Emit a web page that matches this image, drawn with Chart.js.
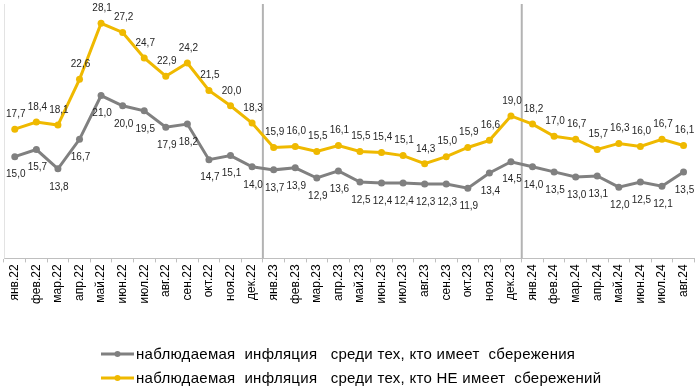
<!DOCTYPE html>
<html>
<head>
<meta charset="utf-8">
<script src="https://cdn.jsdelivr.net/npm/chart.js@4/dist/chart.umd.min.js"></script>
<style>
  html, body { margin: 0; padding: 0; background: #ffffff; }
  #wrap { width: 700px; height: 390px; position: relative; }
</style>
</head>
<body>
<div id="wrap"><canvas id="c" width="700" height="390"></canvas></div>
<script>
const categories = [
  'янв.22','фев.22','мар.22','апр.22','май.22','июн.22','июл.22','авг.22','сен.22','окт.22','ноя.22','дек.22',
  'янв.23','фев.23','мар.23','апр.23','май.23','июн.23','июл.23','авг.23','сен.23','окт.23','ноя.23','дек.23',
  'янв.24','фев.24','мар.24','апр.24','май.24','июн.24','июл.24','авг.24'
];
const withSavings = [
  15.0, 15.7, 13.8, 16.7, 21.0, 20.0, 19.5, 17.9, 18.2, 14.7, 15.1, 14.0,
  13.7, 13.9, 12.9, 13.6, 12.5, 12.4, 12.4, 12.3, 12.3, 11.9, 13.4, 14.5,
  14.0, 13.5, 13.0, 13.1, 12.0, 12.5, 12.1, 13.5
];
const withoutSavings = [
  17.7, 18.4, 18.1, 22.6, 28.1, 27.2, 24.7, 22.9, 24.2, 21.5, 20.0, 18.3,
  15.9, 16.0, 15.5, 16.1, 15.5, 15.4, 15.1, 14.3, 15.0, 15.9, 16.6, 19.0,
  18.2, 17.0, 16.7, 15.7, 16.3, 16.0, 16.7, 16.1
];
const seriesNames = [
  'наблюдаемая  инфляция   среди тех, кто имеет  сбережения',
  'наблюдаемая  инфляция   среди тех, кто НЕ имеет  сбережений'
];
const yearBreaks = ['дек.22', 'дек.23'];

const GRAY = '#808080';
const YELLOW = '#efb900';

const separatorPlugin = {
  id: 'separators',
  beforeDatasetsDraw(chart) {
    const { ctx, chartArea, scales } = chart;
    ctx.save();
    ctx.strokeStyle = '#e3e3e3';
    ctx.lineWidth = 1;
    ctx.beginPath();
    ctx.moveTo(chartArea.left + 0.5, chartArea.top);
    ctx.lineTo(chartArea.left + 0.5, chartArea.bottom);
    ctx.stroke();
    ctx.strokeStyle = '#b3b3b3';
    ctx.lineWidth = 2;
    yearBreaks.forEach(lbl => {
      const i = categories.indexOf(lbl);
      const x = scales.x.getPixelForValue(i + 0.5);
      ctx.beginPath();
      ctx.moveTo(x, chartArea.top);
      ctx.lineTo(x, chartArea.bottom);
      ctx.stroke();
    });
    ctx.restore();
  }
};

const labelPlugin = {
  id: 'valueLabels',
  afterDatasetsDraw(chart) {
    const { ctx } = chart;
    ctx.save();
    ctx.font = '10px "Liberation Sans", Arial, sans-serif';
    ctx.fillStyle = '#262626';
    ctx.textAlign = 'center';
    ctx.textBaseline = 'middle';
    chart.data.datasets.forEach((ds, di) => {
      const meta = chart.getDatasetMeta(di);
      const off = di === 0 ? 18 : -15;
      meta.data.forEach((pt, i) => {
        const txt = ds.data[i].toFixed(1).replace('.', ',');
        ctx.fillText(txt, pt.x + 1, pt.y + off);
      });
    });
    ctx.restore();
  }
};

const legendPlugin = {
  id: 'customLegend',
  afterDraw(chart) {
    const { ctx } = chart;
    ctx.save();
    const rows = [354, 378];
    chart.data.datasets.forEach((ds, di) => {
      const y = rows[di];
      ctx.strokeStyle = ds.borderColor;
      ctx.lineWidth = 3;
      ctx.beginPath();
      ctx.moveTo(101, y);
      ctx.lineTo(134, y);
      ctx.stroke();
      ctx.fillStyle = ds.borderColor;
      ctx.beginPath();
      ctx.arc(117.5, y, 3, 0, Math.PI * 2);
      ctx.fill();
      ctx.fillStyle = '#000000';
      ctx.font = '15px "Liberation Sans", Arial, sans-serif';
      if ('letterSpacing' in ctx) ctx.letterSpacing = '0.28px';
      ctx.textAlign = 'left';
      ctx.textBaseline = 'middle';
      ctx.fillText(ds.label, 136, y + 0.5);
      if ('letterSpacing' in ctx) ctx.letterSpacing = '0px';
    });
    ctx.restore();
  }
};

new Chart(document.getElementById('c'), {
  type: 'line',
  data: {
    labels: categories,
    datasets: [
      {
        label: seriesNames[0],
        data: withSavings,
        borderColor: GRAY,
        backgroundColor: GRAY,
        borderWidth: 3,
        pointRadius: 3.5,
        pointBackgroundColor: GRAY,
        pointBorderWidth: 0,
        tension: 0
      },
      {
        label: seriesNames[1],
        data: withoutSavings,
        borderColor: YELLOW,
        backgroundColor: YELLOW,
        borderWidth: 3,
        pointRadius: 3.5,
        pointBackgroundColor: YELLOW,
        pointBorderWidth: 0,
        tension: 0
      }
    ]
  },
  options: {
    responsive: false,
    animation: false,
    devicePixelRatio: 1,
    layout: { padding: { top: 3, left: 1, right: 2, bottom: 84 } },
    plugins: {
      legend: { display: false },
      tooltip: { enabled: false }
    },
    scales: {
      x: {
        offset: true,
        border: { display: true, color: '#bfbfbf', width: 1 },
        grid: { display: true, drawOnChartArea: false, drawTicks: true, tickLength: 4, color: '#bfbfbf', offset: true },
        ticks: {
          autoSkip: false,
          maxRotation: 90,
          minRotation: 90,
          padding: 2,
          color: '#000000',
          font: { family: '"Liberation Sans", Arial, sans-serif', size: 12 }
        }
      },
      y: {
        display: false,
        min: 5,
        max: 30
      }
    }
  },
  plugins: [separatorPlugin, labelPlugin, legendPlugin]
});
</script>
</body>
</html>
